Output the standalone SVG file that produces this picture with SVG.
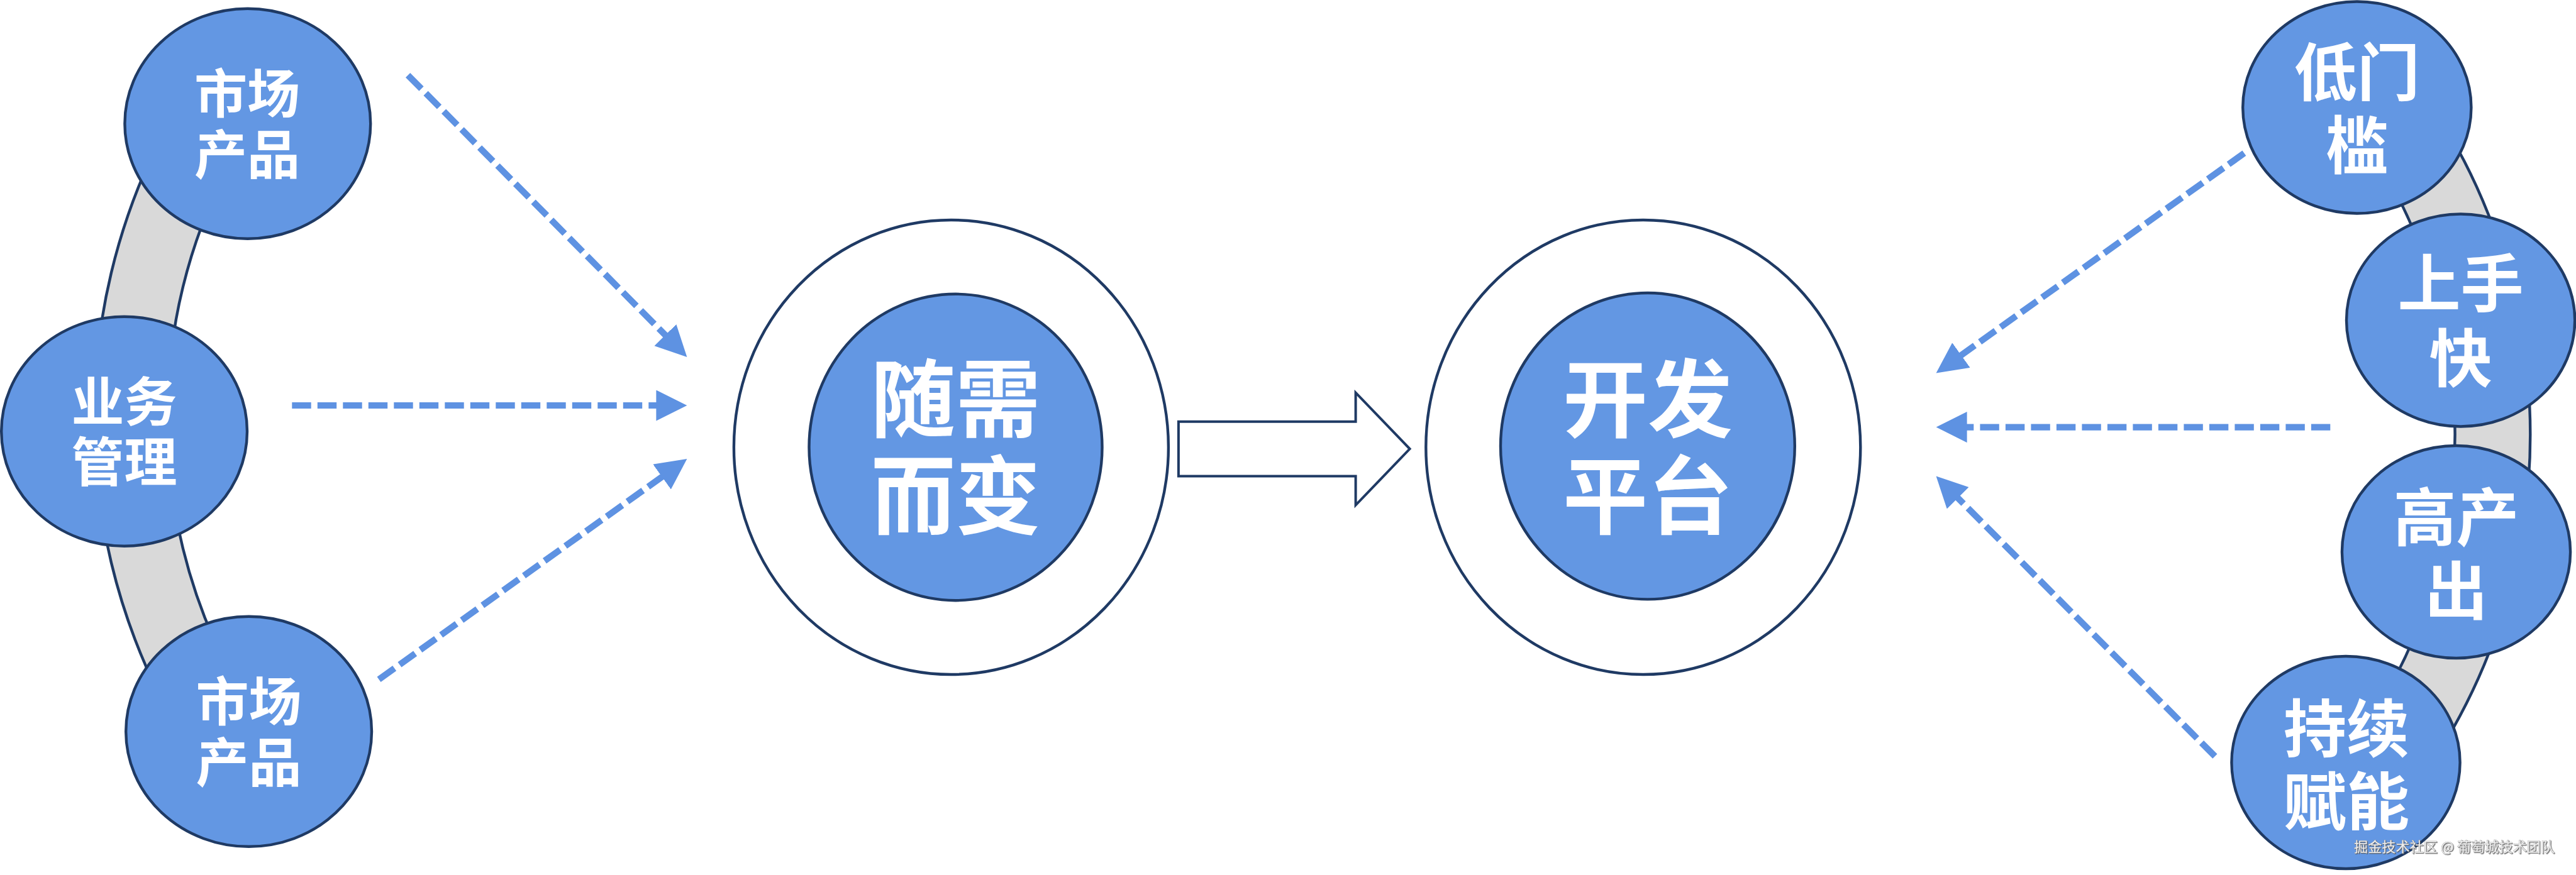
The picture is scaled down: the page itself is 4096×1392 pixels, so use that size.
<svg xmlns="http://www.w3.org/2000/svg" width="4096" height="1392" viewBox="0 0 4096 1392">
<style>
.node{fill:#6397E3;stroke:#1F3A64;stroke-width:4.4}
.ring{fill:#FFFFFF;stroke:#1F3A64;stroke-width:4.4}
.band{fill:#D9D9D9;stroke:#1F3A64;stroke-width:4.4}
.lbl{font-family:"Noto Sans CJK SC","Noto Sans CJK JP",sans-serif;font-weight:700;fill:#FFFFFF;text-anchor:middle}
.s{font-size:84px}
.m{font-size:135px}
.r{font-size:100px}
.dash{fill:none;stroke:#5E92E2;stroke-width:10.2;stroke-dasharray:30.4 10.1}
.wm{font-family:"Noto Sans CJK SC",sans-serif;font-size:22px;fill:#EEEEEE;stroke:#8A8A8A;stroke-width:0.7;paint-order:stroke}
</style>
<defs>
<marker id="ah" markerUnits="userSpaceOnUse" markerWidth="50" markerHeight="50" refX="4" refY="24.5" orient="auto" viewBox="0 0 50 50">
<path d="M0,0 L49,24.5 L0,49 Z" fill="#5E92E2"/>
</marker>
<filter id="sh" x="-5%" y="-30%" width="110%" height="160%">
<feDropShadow dx="1.2" dy="1.2" stdDeviation="0.6" flood-color="#555555" flood-opacity="0.8"/>
</filter>
</defs>
<rect width="4096" height="1392" fill="#FFFFFF"/>

<g id="bands">
<path class="band" d="M254.3,221.5 A990.5,990.5 0 0 0 254.3,1107.5 L362,1063.2 A874.5,874.5 0 0 1 362,265.8 Z"/>
<path class="band" d="M3889.2,203.8 A952.5,952.5 0 0 1 3889.2,1178.4 L3786.8,1116.4 A832.8,832.8 0 0 0 3786.8,265.8 Z"/>
</g>

<g id="connectors">
<line class="dash" x1="648.6" y1="119.6" x2="1060.7" y2="535.9" marker-end="url(#ah)"/>
<line class="dash" x1="464.3" y1="645" x2="1047.4" y2="645" marker-end="url(#ah)"/>
<line class="dash" x1="602.5" y1="1080.9" x2="1055.8" y2="756.3" marker-end="url(#ah)"/>
<line class="dash" x1="3568.4" y1="243.7" x2="3115.2" y2="567.4" marker-end="url(#ah)"/>
<line class="dash" x1="3705.3" y1="679.6" x2="3123.6" y2="679.6" marker-end="url(#ah)"/>
<line class="dash" x1="3521.9" y1="1203.2" x2="3110.3" y2="789.4" marker-end="url(#ah)"/>
<path id="bigArrow" d="M1873.9,670.7 L2155.6,670.7 L2155.6,624.6 L2241.6,714.1 L2155.6,803.6 L2155.6,757.5 L1873.9,757.5 Z" fill="#FFFFFF" stroke="#1F3A64" stroke-width="4"/>
</g>

<g id="n-market-top">
<ellipse class="node" cx="393.8" cy="196.7" rx="195.4" ry="183"/>
<text class="lbl s"><tspan x="393" y="180.3">市场</tspan><tspan x="393" y="276.9">产品</tspan></text>
</g>
<g id="n-business">
<ellipse class="node" cx="197.6" cy="686.2" rx="195.4" ry="182.5"/>
<text class="lbl s"><tspan x="197.6" y="669.8">业务</tspan><tspan x="197.6" y="766.4">管理</tspan></text>
</g>
<g id="n-market-bottom">
<ellipse class="node" cx="395.6" cy="1163.8" rx="195.4" ry="183"/>
<text class="lbl s"><tspan x="395.6" y="1147.4">市场</tspan><tspan x="395.6" y="1244">产品</tspan></text>
</g>

<g id="n-change">
<ellipse class="ring" cx="1512.4" cy="711.5" rx="345.5" ry="361.5"/>
<ellipse class="node" cx="1519.5" cy="711.5" rx="233" ry="243.7"/>
<text class="lbl m"><tspan x="1519.5" y="684.8">随需</tspan><tspan x="1519.5" y="839">而变</tspan></text>
</g>
<g id="n-platform">
<ellipse class="ring" cx="2612.8" cy="711.5" rx="345.5" ry="361.5"/>
<ellipse class="node" cx="2619.9" cy="709.7" rx="233.9" ry="243.7"/>
<text class="lbl m"><tspan x="2619.9" y="684.8">开发</tspan><tspan x="2619.9" y="839">平台</tspan></text>
</g>

<g id="n-low">
<ellipse class="node" cx="3747.8" cy="171" rx="181.6" ry="168.5"/>
<text class="lbl r"><tspan x="3747.8" y="152.3">低门</tspan><tspan x="3747.8" y="268.4">槛</tspan></text>
</g>
<g id="n-fast">
<ellipse class="node" cx="3912.6" cy="509.5" rx="181.6" ry="169"/>
<text class="lbl r"><tspan x="3912.6" y="487.6">上手</tspan><tspan x="3912.6" y="607.3">快</tspan></text>
</g>
<g id="n-output">
<ellipse class="node" cx="3905.5" cy="878" rx="181.6" ry="169"/>
<text class="lbl r"><tspan x="3905.5" y="859.8">高产</tspan><tspan x="3905.5" y="977.2">出</tspan></text>
</g>
<g id="n-enable">
<ellipse class="node" cx="3730" cy="1213" rx="181.6" ry="169"/>
<text class="lbl r"><tspan x="3731" y="1195.6">持续</tspan><tspan x="3731" y="1311.6">赋能</tspan></text>
</g>

<text class="wm" x="3743" y="1355" textLength="319" lengthAdjust="spacing" filter="url(#sh)">掘金技术社区 @ 葡萄城技术团队</text>
</svg>
